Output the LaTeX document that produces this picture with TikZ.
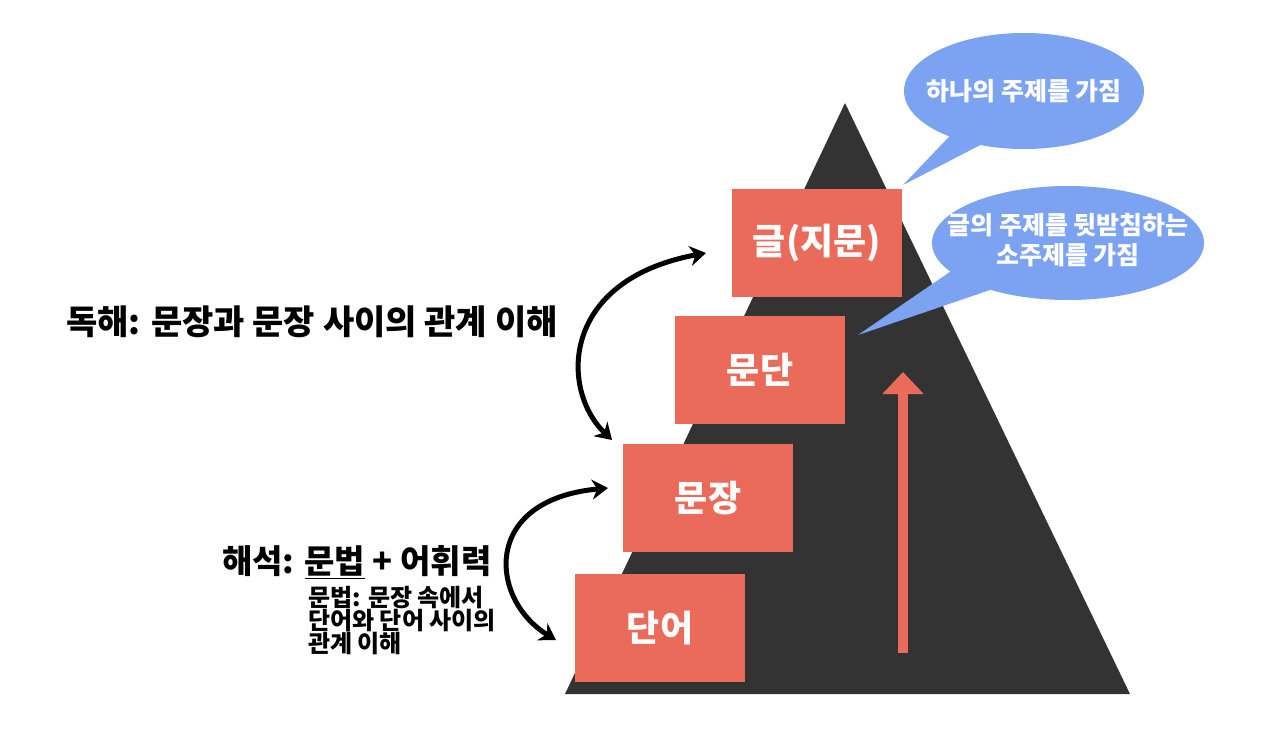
\documentclass[tikz,border=0pt]{standalone}
\usepackage{fontspec}
\setmainfont{Noto Sans CJK KR}
\usetikzlibrary{arrows.meta,shapes.callouts}
\definecolor{tri}{HTML}{333333}
\definecolor{boxr}{HTML}{EA6B5A}
\definecolor{bub}{HTML}{7CA3F2}
\begin{document}
\begin{tikzpicture}[x=1pt,y=-1pt,
  blk/.style={fill=boxr,minimum width=170pt,minimum height=108pt,text=white,font=\fontsize{36}{36}\selectfont\bfseries,inner sep=0},
  bubtxt/.style={text=white,font=\fontsize{25}{30}\selectfont\bfseries,align=center},
  lab/.style={font=\fontsize{34}{36}\selectfont\bfseries,anchor=west,inner sep=0},
  swarr/.style={line width=5pt,{Stealth[length=16pt,width=20pt]}-{Stealth[length=16pt,width=20pt]}}]
\useasboundingbox (0,0) rectangle (1280,739);
\fill[tri] (845,103) -- (1130,694) -- (565,694) -- cycle;
\node[blk] (geul) at (817,243) {글(지문)};
\node[blk] (dan) at (760,370) {문단};
\node[blk] (jang) at (708,498) {문장};
\node[blk] (eo) at (660,628) {단어};
\draw[boxr,line width=10pt,-{Triangle[length=22pt,width=40pt]}] (903,653) -- (903,372);
\fill[bub] (903,185) -- (965,120) -- (990,140) -- cycle;
\fill[bub] (1024,91) ellipse[x radius=120,y radius=58];
\node[bubtxt] (b1) at (1024,91) {하나의 주제를 가짐};
\fill[bub] (858,335) -- (960,265) -- (990,290) -- cycle;
\fill[bub] (1068,243) ellipse[x radius=136,y radius=57];
\node[bubtxt] (b2) at (1068,240) {글의 주제를 뒷받침하는\\소주제를 가짐};
\coordinate (a1) at (612,440);
\coordinate (a2) at (706,253);
\draw[swarr] (a1) .. controls (560,390) and (560,280) .. (a2);
\coordinate (c1) at (608,488);
\coordinate (c2) at (556,640);
\draw[swarr] (c1) .. controls (480,500) and (490,600) .. (c2);
\node[lab] (t1) at (66,322) {독해: 문장과 문장 사이의 관계 이해};
\node[lab,font=\fontsize{33}{36}\selectfont\bfseries] (t2) at (222,562) {해석: \underline{문법} + 어휘력};
\node[font=\fontsize{24}{23}\selectfont\bfseries,anchor=north west,align=left,inner sep=0] (t3) at (308,586) {문법: 문장 속에서\\단어와 단어 사이의\\관계 이해};
\end{tikzpicture}
\end{document}
